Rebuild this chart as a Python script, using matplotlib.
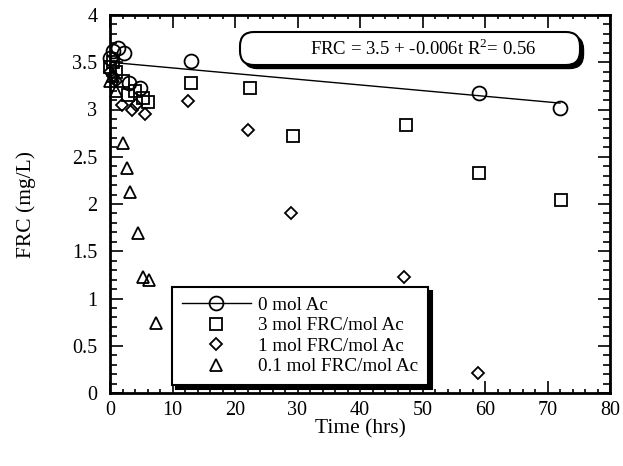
import matplotlib
matplotlib.use("Agg")
import matplotlib.pyplot as plt
from matplotlib.patches import FancyBboxPatch
from matplotlib.ticker import MultipleLocator, FuncFormatter

# ---- data ----
t_0ac = [0, 0.5, 1.2, 2.3, 3.0, 4.8, 13, 59, 72]
frc_0ac = [3.55, 3.62, 3.65, 3.6, 3.28, 3.23, 3.51, 3.17, 3.02]

t_3 = [0, 0.5, 1, 2, 2.9, 4.0, 5.2, 6.0, 13, 22.4, 29.3, 47.3, 59.1, 72.1]
frc_3 = [3.45, 3.5, 3.4, 3.3, 3.15, 3.2, 3.12, 3.08, 3.28, 3.23, 2.72, 2.84, 2.33, 2.04]

t_1 = [0, 0.5, 1, 1.9, 3.5, 4.2, 5.6, 12.5, 22, 28.9, 47, 58.8]
frc_1 = [3.4, 3.35, 3.3, 3.05, 3.0, 3.05, 2.95, 3.09, 2.78, 1.90, 1.23, 0.21]

t_01 = [0, 0.5, 1, 2.1, 2.7, 3.2, 4.5, 5.3, 6.2, 7.4]
frc_01 = [3.3, 3.35, 3.2, 2.65, 2.38, 2.13, 1.69, 1.23, 1.20, 0.74]

fit_t = [0, 72]
fit_frc = [3.5, 3.068]

labels = ["0 mol Ac", "3 mol FRC/mol Ac", "1 mol FRC/mol Ac", "0.1 mol FRC/mol Ac"]
fit_text = "FRC = 3.5 + -0.006t R$^2$= 0.56"

plt.rcParams['font.family'] = ['Liberation Serif', 'DejaVu Serif']
plt.rcParams['mathtext.fontset'] = 'custom'
plt.rcParams['mathtext.rm'] = 'Liberation Serif'

fig = plt.figure(figsize=(6.23, 4.66), dpi=100)
ax = fig.add_axes([110/623, 1-393/466, 500/623, 378/466])

mk = dict(linestyle='none', markerfacecolor='none', markeredgecolor='black',
          markeredgewidth=1.3, clip_on=False)
ax.plot(fit_t, fit_frc, color='black', lw=1.0, zorder=2)
ax.plot(t_0ac, frc_0ac, marker='o', markersize=10, **mk, zorder=3)
h_sq, = ax.plot(t_3, frc_3, marker='s', markersize=8.5, **mk, zorder=3)
h_di, = ax.plot(t_1, frc_1, marker='D', markersize=6.5, **mk, zorder=3)
h_tr, = ax.plot(t_01, frc_01, marker='^', markersize=9, **mk, zorder=3)
h_circ, = ax.plot([], [], color='black', lw=1.0, marker='o', markersize=10,
                  markerfacecolor='none', markeredgecolor='black', markeredgewidth=1.3)

ax.set_xlim(0, 80)
ax.set_ylim(0, 4)
ax.xaxis.set_major_locator(MultipleLocator(10))
ax.xaxis.set_minor_locator(MultipleLocator(2))
ax.yaxis.set_major_locator(MultipleLocator(0.5))
ax.yaxis.set_minor_locator(MultipleLocator(0.1))
ax.yaxis.set_major_formatter(FuncFormatter(lambda v, p: f"{v:g}"))
ax.tick_params(which='both', direction='in', top=True, right=True, labelsize=14.5, width=1.2)
ax.tick_params(which='major', length=9, pad=9)
ax.tick_params(axis='x', which='major', pad=6)
ax.tick_params(which='minor', length=5)
ax.tick_params(axis='x', which='minor', length=3)
for s in ax.spines.values():
    s.set_linewidth(2)

ax.set_xlabel("Time (hrs)", fontsize=15.5, labelpad=-1)
ax.set_ylabel("FRC (mg/L)", fontsize=15.5, labelpad=26)

leg = ax.legend([h_circ, h_sq, h_di, h_tr], labels, loc='lower left',
                bbox_to_anchor=((172-110)/500, (393-385)/378), borderaxespad=0,
                fontsize=13.8, frameon=True, fancybox=False, edgecolor='black',
                handlelength=3.6, labelspacing=0.16, borderpad=0.5, handletextpad=0.4,
                shadow={'color': 'black', 'alpha': 1, 'ox': 3, 'oy': -3})
leg.get_frame().set_linewidth(1.5)
leg.set_zorder(5)

# fit annotation rounded box with shadow
x0, y0, w, h = 2.40, (466-65)/100, 3.40, 0.33
shadow = FancyBboxPatch((x0+0.035, y0-0.035), w, h, boxstyle='round,pad=0,rounding_size=0.14',
                        transform=fig.dpi_scale_trans, facecolor='black', edgecolor='black', zorder=6)
box = FancyBboxPatch((x0, y0), w, h, boxstyle='round,pad=0,rounding_size=0.14',
                     transform=fig.dpi_scale_trans, facecolor='white', edgecolor='black', lw=1.5, zorder=7)
fig.add_artist(shadow)
fig.add_artist(box)
fig.text(4.23/6.23, (y0 + h/2)/4.66, fit_text, ha='center', va='center', fontsize=13.5, zorder=8)

fig.savefig("out.png", dpi=100)
